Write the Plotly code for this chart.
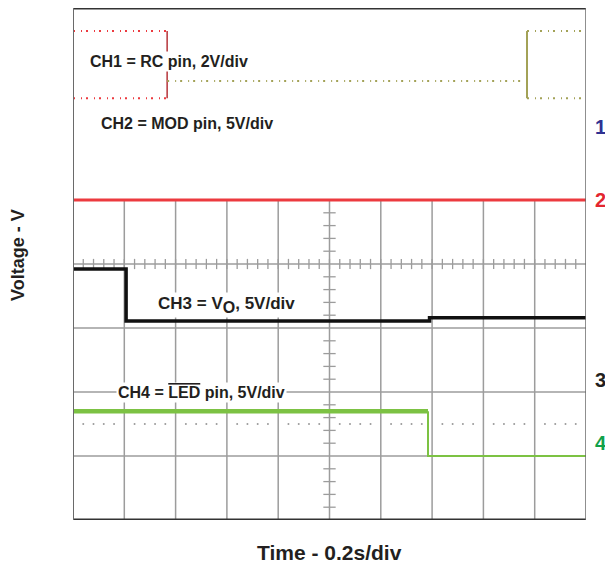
import plotly.graph_objects as go

# ---------------- data ----------------
SEC_PER_DIV = 0.2
N_XDIV = 10
N_YDIV = 8

# CH1 = RC pin (2 V/div): oscillating between high/low, idle at mid level
ch1_scale = 2.0
ch1_offset = 6.14          # ground reference (div)
ch1_edges = [0.367, 1.77]  # s
ch1_high = 3.0             # V
ch1_mid = 1.44             # V
ch1_low = 0.9              # V

# CH2 = MOD pin (5 V/div)
ch2_scale = 5.0
ch2_offset = 5.0
ch2_t = [0.0, 2.0]
ch2_v = [0.0, 0.0]

# CH3 = V_O (5 V/div)
ch3_scale = 5.0
ch3_offset = 2.0
ch3_t = [0.0, 0.207, 0.207, 1.39, 1.39, 2.0]
ch3_v = [9.6, 9.6, 5.55, 5.55, 5.8, 5.8]

# CH4 = LED pin (5 V/div)
ch4_scale = 5.0
ch4_offset = 1.0
ch4_t_high = [0.0, 1.384]
ch4_v_high = [3.5, 3.5]
ch4_t_low = [1.384, 1.384, 2.0]
ch4_v_low = [3.5, 0.0, 0.0]

channel_labels = ["1", "2", "3", "4"]
channel_label_pos = [6.14, 5.0, 2.19, 1.2]  # div
channel_label_colors = ["#2e3192", "#e3262f", "#231f20", "#10a14a"]


def div(v, off, sc):
    return [off + x / sc for x in v]


RED = "#ec3a3f"
OLIVE = "#a3a257"
GRID = "#9c9c9c"
T_END = SEC_PER_DIV * N_XDIV

fig = go.Figure()

# ---------- graticule (lower 5 divisions only) ----------
shapes = []
for k in range(1, N_XDIV):
    shapes.append(dict(type="line", x0=k * SEC_PER_DIV, x1=k * SEC_PER_DIV, y0=0, y1=5,
                       line=dict(color=GRID, width=1.5), layer="below"))
for j in range(1, 5):
    shapes.append(dict(type="line", x0=0, x1=T_END, y0=j, y1=j,
                       line=dict(color=GRID, width=1.5), layer="below"))
# center axis minor ticks
for i in range(1, N_XDIV * 5):
    x = i * SEC_PER_DIV / 5
    shapes.append(dict(type="line", x0=x, x1=x, y0=4 - 0.08, y1=4 + 0.08,
                       line=dict(color=GRID, width=1.3), layer="below"))
for i in range(1, 25):
    y = i / 5
    if abs(y - round(y)) < 1e-6:
        continue
    shapes.append(dict(type="line", x0=1.0 - 0.024, x1=1.0 + 0.024, y0=y, y1=y,
                       line=dict(color=GRID, width=1.3), layer="below"))
# frame
shapes.append(dict(type="line", x0=0, x1=T_END, y0=N_YDIV, y1=N_YDIV, line=dict(color="#333333", width=3)))
shapes.append(dict(type="line", x0=0, x1=T_END, y0=0, y1=0, line=dict(color="#333333", width=3)))
shapes.append(dict(type="line", x0=0, x1=0, y0=0, y1=N_YDIV, line=dict(color="#6a6a6a", width=2)))
shapes.append(dict(type="line", x0=T_END, x1=T_END, y0=0, y1=N_YDIV, line=dict(color="#6a6a6a", width=1.5)))

# dotted reference row
dx, dy = [], []
for k in range(N_XDIV):
    for m in range(1, 5):
        dx.append((k + m * 0.2) * SEC_PER_DIV)
        dy.append(1.5)
fig.add_trace(go.Scatter(x=dx, y=dy, mode="markers",
                         marker=dict(size=2, color="#9a9a9a"), hoverinfo="skip"))

# ---------- CH1 ----------
hi = ch1_offset + ch1_high / ch1_scale
mid = ch1_offset + ch1_mid / ch1_scale
lo = ch1_offset + ch1_low / ch1_scale
dash = "2px,6px,1px,4px"
for lvl in (hi, lo):
    fig.add_trace(go.Scatter(x=[0, ch1_edges[0]], y=[lvl, lvl], mode="lines",
                             line=dict(color=RED, width=2, dash=dash)))
    fig.add_trace(go.Scatter(x=[ch1_edges[1], T_END], y=[lvl, lvl], mode="lines",
                             line=dict(color=OLIVE, width=2, dash=dash)))
fig.add_trace(go.Scatter(x=[ch1_edges[0], ch1_edges[0]], y=[lo, hi], mode="lines",
                         line=dict(color="#b5343a", width=1.5)))
fig.add_trace(go.Scatter(x=[ch1_edges[0], ch1_edges[1]], y=[mid, mid], mode="lines",
                         line=dict(color=OLIVE, width=2, dash=dash)))
fig.add_trace(go.Scatter(x=[ch1_edges[1], ch1_edges[1]], y=[lo, hi], mode="lines",
                         line=dict(color=OLIVE, width=2)))

# ---------- CH2 ----------
fig.add_trace(go.Scatter(x=ch2_t, y=div(ch2_v, ch2_offset, ch2_scale), mode="lines",
                         line=dict(color=RED, width=3)))
# ---------- CH3 ----------
fig.add_trace(go.Scatter(x=ch3_t, y=div(ch3_v, ch3_offset, ch3_scale), mode="lines",
                         line=dict(color="#111111", width=3.5)))
# ---------- CH4 ----------
fig.add_trace(go.Scatter(x=ch4_t_low, y=div(ch4_v_low, ch4_offset, ch4_scale), mode="lines",
                         line=dict(color="#7cc243", width=2)))
fig.add_trace(go.Scatter(x=ch4_t_high, y=div(ch4_v_high, ch4_offset, ch4_scale), mode="lines",
                         line=dict(color="#7cc243", width=4.5)))

# ---------- annotations ----------
FONT = "Liberation Sans, Arial, sans-serif"
tf = dict(family=FONT, size=16, color="#231f20")
ann = [
    dict(x=0.374, y=7.17, size=16, text="<b>CH1 = RC pin, 2V/div</b>"),
    dict(x=0.446, y=6.19, size=16, text="<b>CH2 = MOD pin, 5V/div</b>"),
    dict(x=0.60, y=3.36, size=17,
         text="<b>CH3 = V<sub><span style='font-size:16px'>O</span></sub>, 5V/div</b>"),
    dict(x=0.50, y=2.0, size=16,
         text="<b>CH4 = <span style='text-decoration:overline'>LED</span> pin, 5V/div</b>"),
]
annotations = []
for a in ann:
    annotations.append(dict(x=a["x"], y=a["y"], xref="x", yref="y", text=a["text"],
                            showarrow=False, font=dict(family=FONT, size=a["size"], color="#231f20"),
                            bgcolor="white", borderpad=1))
for lab, pos, col in zip(channel_labels, channel_label_pos, channel_label_colors):
    annotations.append(dict(x=1.029, y=pos, xref="paper", yref="y", text="<b>%s</b>" % lab,
                            xanchor="center", yanchor="middle",
                            showarrow=False, font=dict(family=FONT, size=20, color=col)))
annotations.append(dict(x=-0.107, y=0.518, xref="paper", yref="paper", text="<b>Voltage - V</b>",
                        textangle=-90, showarrow=False, xanchor="center", yanchor="middle",
                        font=dict(family=FONT, size=18, color="#231f20")))
annotations.append(dict(x=0.5, y=-0.0625, xref="paper", yref="paper", text="<b>Time - 0.2s/div</b>",
                        showarrow=False, xanchor="center", yanchor="middle",
                        font=dict(family=FONT, size=21, color="#231f20")))

fig.update_layout(
    width=605, height=564,
    margin=dict(l=73, r=19, t=8, b=44),
    paper_bgcolor="white", plot_bgcolor="white",
    showlegend=False,
    shapes=shapes, annotations=annotations,
    xaxis=dict(range=[0, T_END], showgrid=False, zeroline=False, showticklabels=False,
               ticks="", fixedrange=True),
    yaxis=dict(range=[0, N_YDIV], showgrid=False, zeroline=False, showticklabels=False,
               ticks="", fixedrange=True),
)

fig.write_html("out.html")
